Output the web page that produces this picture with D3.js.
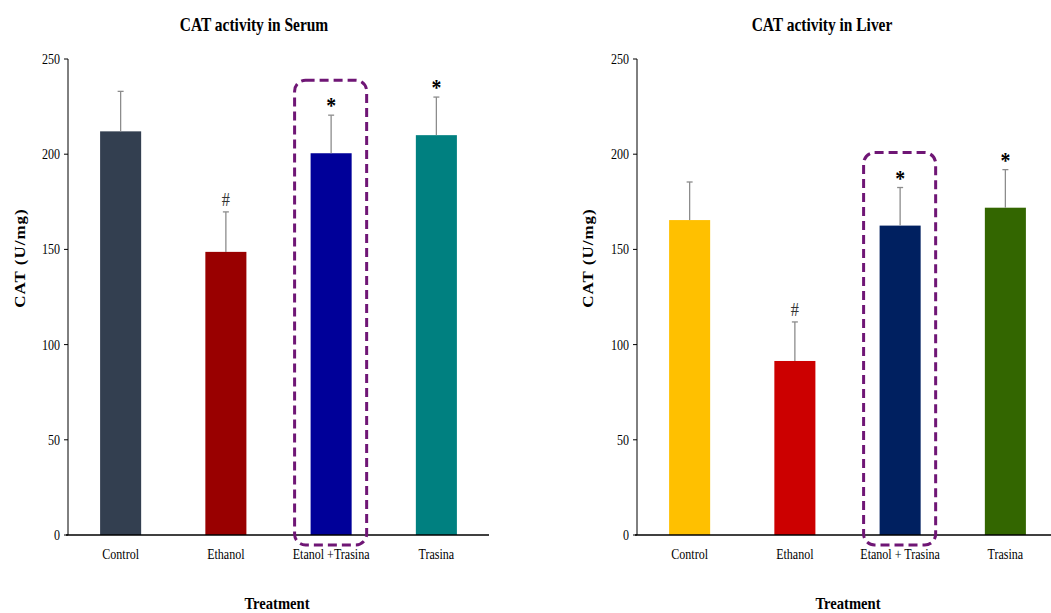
<!DOCTYPE html>
<html>
<head>
<meta charset="utf-8">
<script src="https://cdn.jsdelivr.net/npm/d3@7"></script>
<style>
  body { margin: 0; background: #fff; }
  svg { display: block; font-family: "Liberation Serif", "Times New Roman", serif; }
</style>
</head>
<body>
<svg id="chart" width="1051" height="613"></svg>
<script>
// groups on the x axis
const categories = ['Control', 'Ethanol', 'Etanol + Trasina', 'Trasina'];
const categoryLabels = [['Control', 'Ethanol', 'Etanol +Trasina', 'Trasina'],
                        ['Control', 'Ethanol', 'Etanol + Trasina', 'Trasina']];
const yTicks = [0, 50, 100, 150, 200, 250];

// serum panel
const serumMean = [212, 148.7, 200.5, 210];
const serumErr = [21, 21, 20, 20];
const serumMarks = ['', '#', '*', '*'];
const serumColors = ['#333f50', '#990000', '#000099', '#008080'];

// liver panel
const liverMean = [165.4, 91.4, 162.5, 171.9];
const liverErr = [20, 20.5, 20, 20];
const liverMarks = ['', '#', '*', '*'];
const liverColors = ['#ffc000', '#cc0000', '#002060', '#336600'];

const svg = d3.select('#chart');
const squeeze = 0.86; // the source text looks horizontally condensed

function label(g, x, y, txt, opts) {
    return g.append('text')
        .attr('transform', `translate(${x},${y}) scale(${squeeze},1)` + (opts.rotate ? ' rotate(-90)' : ''))
        .attr('text-anchor', opts.anchor || 'middle')
        .attr('font-size', opts.size)
        .attr('font-weight', opts.bold ? 'bold' : null)
        .attr('letter-spacing', opts.spacing || null)
        .attr('fill', opts.fill || '#000')
        .text(txt);
}

function drawPanel(p) {
    const g = svg.append('g');

    const y = d3.scaleLinear().domain([0, 250]).range([535, 59]);
    const x = d3.scaleBand()
        .domain(categories)
        .range([p.x0, p.x1])
        .paddingInner(0.61)
        .paddingOuter(0.305);

    // y axis line + ticks
    g.append('line')
        .attr('x1', p.x0).attr('x2', p.x0)
        .attr('y1', y(250)).attr('y2', y(0))
        .attr('stroke', '#000').attr('stroke-width', 1);
    g.selectAll('.ytick')
        .data(yTicks)
        .join('line')
        .attr('x1', p.x0 - 4).attr('x2', p.x0)
        .attr('y1', d => y(d)).attr('y2', d => y(d))
        .attr('stroke', '#000');
    yTicks.forEach(t => label(g, p.x0 - 8, y(t) + 5, t, {anchor: 'end', size: 14}));

    // bars
    g.selectAll('rect.bar')
        .data(p.mean)
        .join('rect')
        .attr('class', 'bar')
        .attr('x', (d, i) => x(categories[i]))
        .attr('y', d => y(d))
        .attr('width', x.bandwidth())
        .attr('height', d => y(0) - y(d))
        .attr('fill', (d, i) => p.colors[i]);

    // upper error bars
    const eb = g.selectAll('g.err')
        .data(p.mean.map((m, i) => ({m, e: p.err[i], c: x(categories[i]) + x.bandwidth() / 2})))
        .join('g');
    eb.append('line')
        .attr('x1', d => d.c).attr('x2', d => d.c)
        .attr('y1', d => y(d.m)).attr('y2', d => y(d.m + d.e))
        .attr('stroke', '#8c8c8c').attr('stroke-width', 1.3);
    eb.append('line')
        .attr('x1', d => d.c - 3).attr('x2', d => d.c + 3)
        .attr('y1', d => y(d.m + d.e)).attr('y2', d => y(d.m + d.e))
        .attr('stroke', '#8c8c8c').attr('stroke-width', 1.3);

    // x axis line
    g.append('line')
        .attr('x1', p.x0 - 2).attr('x2', p.x1)
        .attr('y1', y(0)).attr('y2', y(0))
        .attr('stroke', '#000').attr('stroke-width', 1.5);

    // significance marks
    p.marks.forEach((mk, i) => {
        if (!mk) return;
        const cx = x(categories[i]) + x.bandwidth() / 2;
        const top = y(p.mean[i] + p.err[i]);
        if (mk === '#') label(g, cx, top - 6, mk, {size: 19, fill: '#333'});
        else label(g, cx, top - 2, mk, {size: 23, bold: true});
    });

    // dashed highlight box round the third group
    const hx = x(categories[2]);
    const hTop = y(p.mean[2] + p.err[2]) - 35;
    g.append('rect')
        .attr('x', hx - 16)
        .attr('y', hTop)
        .attr('width', x.bandwidth() + 31)
        .attr('height', y(0) + 10 - hTop)
        .attr('rx', 11)
        .attr('fill', 'none')
        .attr('stroke', '#6f1675')
        .attr('stroke-width', 3)
        .attr('stroke-dasharray', '9,5');

    // category labels
    categoryLabels[p.idx].forEach((c, i) => {
        label(g, x(categories[i]) + x.bandwidth() / 2, 559, c, {size: 14});
    });

    // titles
    label(g, p.titleX, 31, p.title, {size: 18, bold: true});
    label(g, p.axisTitleX, 609, 'Treatment', {size: 17, bold: true});
    label(g, p.yTitleX, 258, 'CAT (U/mg)', {size: 17, bold: true, rotate: true, spacing: 1});
}

drawPanel({idx: 0, x0: 68, x1: 489, mean: serumMean, err: serumErr, marks: serumMarks,
    colors: serumColors, title: 'CAT activity in Serum', titleX: 254, axisTitleX: 277, yTitleX: 25});
drawPanel({idx: 1, x0: 637, x1: 1058, mean: liverMean, err: liverErr, marks: liverMarks,
    colors: liverColors, title: 'CAT activity in Liver', titleX: 822, axisTitleX: 848, yTitleX: 593});
</script>
</body>
</html>
